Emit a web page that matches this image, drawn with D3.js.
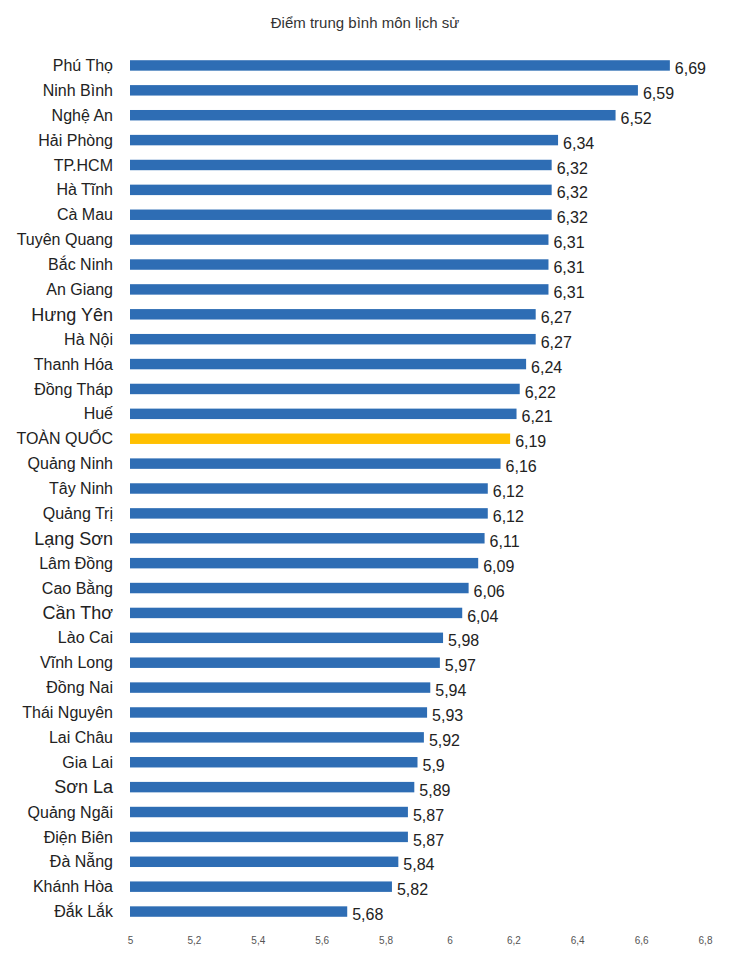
<!DOCTYPE html>
<html>
<head>
<meta charset="UTF-8">
<title>Điểm trung bình môn lịch sử</title>
<script src="https://cdn.jsdelivr.net/npm/d3@7"></script>
<style>
  body{ margin:0; background:#fff; font-family:"Liberation Sans", Arial, sans-serif; }
</style>
</head>
<body>
<svg id="chart" width="730" height="960"></svg>
<script>
var provinces = ["Phú Thọ","Ninh Bình","Nghệ An","Hải Phòng","TP.HCM","Hà Tĩnh","Cà Mau","Tuyên Quang","Bắc Ninh","An Giang","Hưng Yên","Hà Nội","Thanh Hóa","Đồng Tháp","Huế","TOÀN QUỐC","Quảng Ninh","Tây Ninh","Quảng Trị","Lạng Sơn","Lâm Đồng","Cao Bằng","Cần Thơ","Lào Cai","Vĩnh Long","Đồng Nai","Thái Nguyên","Lai Châu","Gia Lai","Sơn La","Quảng Ngãi","Điện Biên","Đà Nẵng","Khánh Hòa","Đắk Lắk"]
var scores = [6.69,6.59,6.52,6.34,6.32,6.32,6.32,6.31,6.31,6.31,6.27,6.27,6.24,6.22,6.21,6.19,6.16,6.12,6.12,6.11,6.09,6.06,6.04,5.98,5.97,5.94,5.93,5.92,5.9,5.89,5.87,5.87,5.84,5.82,5.68]
var tickValues = [5,5.2,5.4,5.6,5.8,6,6.2,6.4,6.6,6.8]
// a few labels are set a bit larger in the original
var bigLabels = ["Hưng Yên","Lạng Sơn","Cần Thơ","Sơn La"]

var svg = d3.select("#chart")
var x = d3.scaleLinear().domain([5,6.8]).range([130,705])
var y = d3.scaleBand().domain(provinces).range([53,924]).paddingInner(0.58).paddingOuter(0.29)
var fmt = function(v){ return String(v).replace(".",",") }

svg.append("text").attr("x",365).attr("y",28).attr("text-anchor","middle")
  .attr("font-size",15).attr("fill","#333").text("Điểm trung bình môn lịch sử")

svg.selectAll("rect.bar").data(provinces).enter().append("rect")
  .attr("x",x(5)).attr("y",function(d){ return y(d) })
  .attr("height",y.bandwidth())
  .attr("width",function(d,i){ return x(scores[i])-x(5) })
  .attr("fill",function(d){ return d=="TOÀN QUỐC" ? "#ffc000" : "#2e6db4" })

svg.selectAll("text.cat").data(provinces).enter().append("text")
  .attr("x",113).attr("y",function(d){ return y(d)+y.bandwidth()/2 })
  .attr("dy","0.35em").attr("text-anchor","end")
  .attr("font-size",function(d){ return bigLabels.indexOf(d)>=0 ? 18 : 16 }).attr("fill","#222")
  .text(function(d){ return d })

svg.selectAll("text.val").data(provinces).enter().append("text")
  .attr("x",function(d,i){ return x(scores[i])+5 })
  .attr("y",function(d){ return y(d)+y.bandwidth()/2+3 })
  .attr("dy","0.35em").attr("font-size",16).attr("fill","#222")
  .text(function(d,i){ return fmt(scores[i]) })

var axis = d3.axisBottom(x).tickValues(tickValues).tickSize(0).tickFormat(fmt)
var g = svg.append("g").attr("transform","translate(0,934)").call(axis)
g.select(".domain").remove()
g.selectAll("text").attr("font-size",10).attr("fill","#555").attr("font-family","Liberation Sans, Arial, sans-serif")
</script>
</body>
</html>
